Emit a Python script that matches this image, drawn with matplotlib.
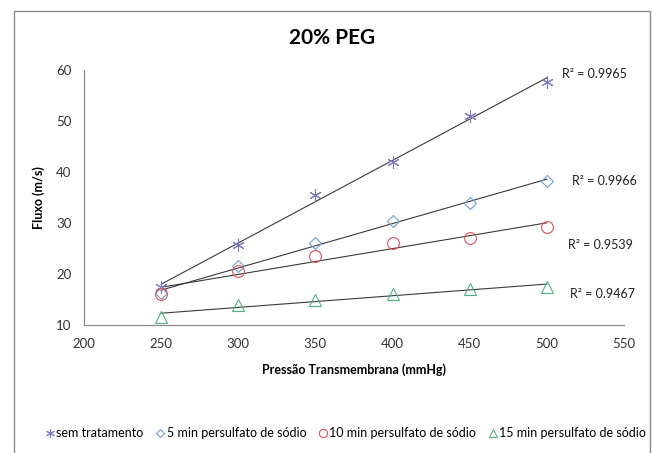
import numpy as np
import matplotlib
matplotlib.use("Agg")
import matplotlib.pyplot as plt
from matplotlib.patches import Rectangle

pressao = [250, 300, 350, 400, 450, 500]
sem_tratamento = [17.5, 25.7, 35.5, 42.0, 51.0, 57.7]
min5 = [16.2, 21.5, 26.0, 30.3, 34.0, 38.3]
min10 = [16.0, 20.5, 23.5, 26.0, 27.0, 29.3]
min15 = [11.5, 14.0, 15.0, 16.0, 17.0, 17.5]

nomes = ["sem tratamento", "5 min persulfato de sódio",
         "10 min persulfato de sódio", "15 min persulfato de sódio"]
r2_textos = ["R² = 0.9965", "R² = 0.9966", "R² = 0.9539", "R² = 0.9467"]
r2_pos = [(510, 59.3), (516, 38.2), (514, 25.7), (515, 16.1)]


def main() -> None:
    plt.rcParams["font.family"] = ["Lato", "DejaVu Sans"]
    fig = plt.figure(figsize=(6.52, 4.53), dpi=100)
    fig.patches.append(Rectangle((14 / 652, -0.01), 636 / 652, 1 - 11 / 453 + 0.01,
                                 transform=fig.transFigure, fill=False,
                                 edgecolor="#8a8a8a", linewidth=1.0))
    ax = fig.add_axes([84 / 652, 1 - 325 / 453, 540 / 652, 255 / 453])

    series = [sem_tratamento, min5, min10, min15]
    markers = [(6, 2, 0), "D", "o", "^"]
    colors = ["#7d7dc4", "#6d9fd8", "#e8505a", "#4fb47d"]
    sizes = [9, 6, 8.5, 8.5]

    x = np.array(pressao)
    for ys, m, c, s, nome in zip(series, markers, colors, sizes, nomes):
        ax.plot(x, ys, linestyle="none", marker=m, markersize=s,
                markerfacecolor="none", markeredgecolor=c,
                markeredgewidth=0.8, label=nome)
        k, b = np.polyfit(x, ys, 1)
        ax.plot(x, k * x + b, color="#3a3a3a", linewidth=0.8, zorder=1)

    for txt, (tx, ty) in zip(r2_textos, r2_pos):
        ax.text(tx, ty, txt, fontsize=9, va="center", ha="left", color="#222222")

    ax.set_xlim(200, 550)
    ax.set_ylim(10, 60)
    ax.set_xticks(range(200, 551, 50))
    ax.set_yticks(range(10, 61, 10))
    ax.tick_params(length=0, labelsize=9.5, colors="#333333", pad=9)
    for side in ["top", "right"]:
        ax.spines[side].set_visible(False)
    for side in ["left", "bottom"]:
        ax.spines[side].set_color("#8a8a8a")
        ax.spines[side].set_linewidth(0.9)

    ax.set_xlabel("Pressão Transmembrana (mmHg)", fontsize=9, fontweight="bold", labelpad=10)
    ax.set_ylabel("Fluxo (m/s)", fontsize=9, fontweight="bold", labelpad=8)
    fig.text(332 / 652, 1 - 38 / 453, "20% PEG", fontsize=15, fontweight="bold",
             ha="center", va="center")

    fig.legend(loc="center", bbox_to_anchor=(346 / 652, 1 - 433 / 453), ncol=4,
               frameon=False, fontsize=9, markerscale=0.7, handlelength=0.7,
               handletextpad=0.15, columnspacing=1.0, borderaxespad=0)

    fig.savefig("out.png", dpi=100)


if __name__ == "__main__":
    main()
